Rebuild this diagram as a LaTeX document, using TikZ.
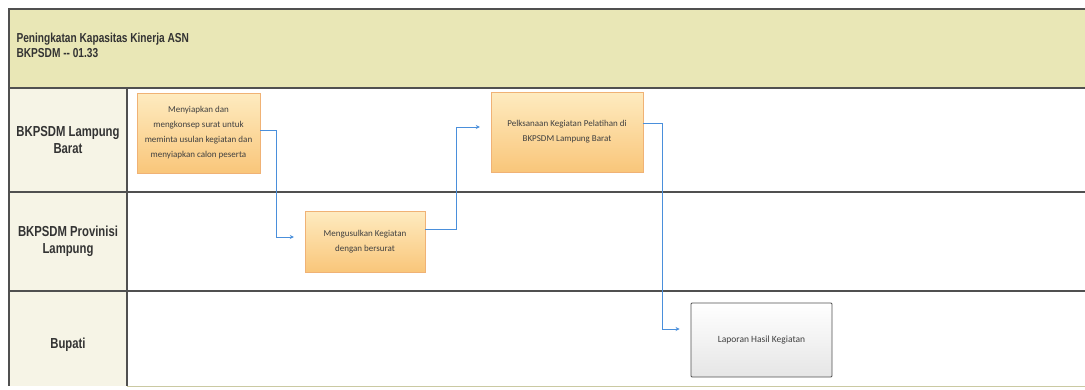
\documentclass[tikz,border=0pt]{standalone}
\usepackage{fontspec}
\setmainfont{Liberation Sans}
\newfontfamily\lanefont{Liberation Sans}[FakeStretch=0.78]
\newfontfamily\boxfont{Carlito}
\usetikzlibrary{arrows.meta}
\definecolor{headfill}{HTML}{E9E7B6}
\definecolor{lanefill}{HTML}{F6F4E6}
\definecolor{gridline}{HTML}{505050}
\definecolor{flowblue}{HTML}{4A8FDB}
\definecolor{orangetop}{HTML}{FEEBC0}
\definecolor{orangebot}{HTML}{F9C67A}

\begin{document}
\begin{tikzpicture}[x=1pt,y=-1pt]
    \tikzstyle{grid}=[draw=gridline,line width=1.1pt]
    \tikzstyle{lanelabel}=[font=\lanefont\bfseries\fontsize{14.5}{17}\selectfont,text=black!80,align=center]
    \tikzstyle{activity}=[rectangle,draw=orange!60!brown!60,top color=orangetop,bottom color=orangebot,
      font=\boxfont\fontsize{9}{15}\selectfont,text=black!75,align=center,inner sep=2pt]
    \tikzstyle{report}=[rectangle,draw=gridline,line width=0.9pt,rounded corners=1pt,top color=white,bottom color=black!10,
      font=\boxfont\fontsize{9.5}{15}\selectfont,text=black!75,align=center]
    \tikzstyle{flow}=[draw=flowblue,line width=0.8pt,-{Stealth[length=4pt,width=4pt]},shorten >=11pt]
    \useasboundingbox (0,0) rectangle (1085,389);
    % header band and lane column
    \fill[headfill] (9,9) rectangle (1085,88);
    \fill[lanefill] (9,88) rectangle (127,386);
    \draw[grid] (1085,9) -- (9,9) -- (9,386);
    \draw[grid] (9,88) -- (1085,88);
    \draw[grid] (9,192) -- (1085,192);
    \draw[grid] (9,291) -- (1085,291);
    \draw[grid] (127,88) -- (127,386);
    \draw[draw=headfill!80!gridline,line width=0.8pt] (127,386) -- (1085,386);
    \node (title) at (13,45) [anchor=west,font=\lanefont\bfseries\fontsize{13}{15}\selectfont,text=black!80,align=left]
      {Peningkatan Kapasitas Kinerja ASN\\BKPSDM -- 01.33};
    % lanes
    \node (lane1) at (68,140) [lanelabel] {BKPSDM Lampung\\Barat};
    \node (lane2) at (68,241) [lanelabel] {BKPSDM Provinisi\\Lampung};
    \node (lane3) at (68,345) [lanelabel] {Bupati};
    % activities
    \node (act1) at (198.5,133) [activity,minimum width=123pt,minimum height=80pt]
      {Menyiapkan dan\\mengkonsep surat untuk\\meminta usulan kegiatan dan\\menyiapkan calon peserta};
    \node (act2) at (365,241.5) [activity,minimum width=120pt,minimum height=61pt]
      {Mengusulkan Kegiatan\\dengan bersurat};
    \node (act3) at (567,132) [activity,minimum width=152pt,minimum height=80pt]
      {Pelksanaan Kegiatan Pelatihan di\\BKPSDM Lampung Barat};
    \node (act4) at (761.5,340) [report,minimum width=141pt,minimum height=74pt]
      {Laporan Hasil Kegiatan};
    % connectors
    \draw[flow] ([yshift=3pt]act1.east) -- ++(16,0) |- ([yshift=4.5pt]act2.west);
    \draw[flow] ([yshift=12.5pt]act2.east) -- ++(31,0) |- ([yshift=5pt]act3.west);
    \draw[flow] ([yshift=9pt]act3.east) -- ++(19,0) |- ([yshift=11pt]act4.west);
\end{tikzpicture}
\end{document}
